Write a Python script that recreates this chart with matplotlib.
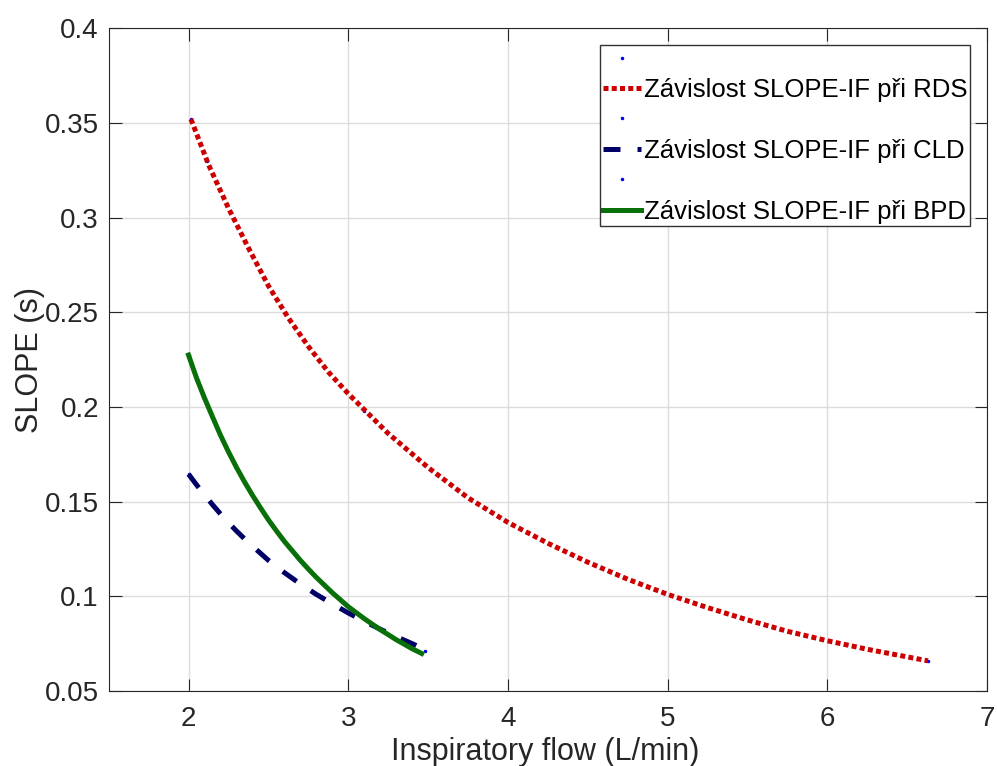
import numpy as np
import matplotlib
matplotlib.use("Agg")
import matplotlib.pyplot as plt
from matplotlib.ticker import FixedLocator, FuncFormatter

plt.rcParams['font.family'] = ['Liberation Sans', 'DejaVu Sans']

# fitted curves
rds_x = [2.015, 2.125, 2.25, 2.375, 2.5, 2.625, 2.75, 2.875, 3.0, 3.25, 3.5,
         3.75, 4.0, 4.25, 4.5, 4.75, 5.0, 5.25, 5.5, 5.75, 6.0, 6.25, 6.63]
rds_y = [0.352, 0.328, 0.305, 0.284, 0.264, 0.247, 0.232, 0.2185, 0.207,
         0.186, 0.168, 0.152, 0.139, 0.128, 0.118, 0.109, 0.101, 0.094,
         0.0875, 0.0815, 0.0765, 0.072, 0.0659]

cld_x = [2.0, 2.05, 2.1, 2.15, 2.2, 2.25, 2.3, 2.35, 2.4, 2.5, 2.6, 2.7,
         2.8, 2.9, 3.0, 3.1, 3.2, 3.3, 3.4, 3.48]
cld_y = [0.1645, 0.1589, 0.1535, 0.1484, 0.1435, 0.1389, 0.1345, 0.1304,
         0.1265, 0.119, 0.1125, 0.1065, 0.101, 0.096, 0.0912, 0.0868,
         0.0826, 0.0787, 0.075, 0.0718]

bpd_x = [2.0, 2.05, 2.1, 2.15, 2.2, 2.25, 2.3, 2.35, 2.4, 2.45, 2.5, 2.55,
         2.6, 2.65, 2.7, 2.75, 2.8, 2.9, 3.0, 3.1, 3.2, 3.3, 3.4, 3.46]
bpd_y = [0.2274, 0.2153, 0.2047, 0.1948, 0.1851, 0.1763, 0.1681, 0.1605,
         0.1534, 0.1468, 0.1404, 0.1346, 0.129, 0.124, 0.119, 0.1144,
         0.110, 0.1019, 0.0945, 0.0882, 0.0824, 0.0771, 0.0723, 0.0698]

# measured points (small blue dots)
rds_pts_x = [2.015, 2.117, 2.5, 3.1, 6.63]
rds_pts_y = [0.352, 0.330, 0.264, 0.198, 0.0659]
cld_pts_x = [2.0, 2.771, 3.48]
cld_pts_y = [0.1646, 0.1027, 0.0712]
bpd_pts_x = [2.0, 3.456]
bpd_pts_y = [0.2274, 0.0698]

labels = ["", "Závislost SLOPE-IF při RDS",
          "", "Závislost SLOPE-IF při CLD",
          "", "Závislost SLOPE-IF při BPD"]

x_ticks = [2, 3, 4, 5, 6, 7]
y_ticks = [0.05, 0.1, 0.15, 0.2, 0.25, 0.3, 0.35, 0.4]

dark = '#262626'

fig = plt.figure(figsize=(9.97, 7.66), dpi=100)
ax = fig.add_axes([0.109, 0.098, 0.881, 0.8651])

lw = 3.6
h1, = ax.plot(rds_pts_x, rds_pts_y, '.', color='blue', ms=3)
h2, = ax.plot(rds_x, rds_y, color='#cc0000', lw=lw, linestyle=(0, (1, 0.65)))
h3, = ax.plot(cld_pts_x, cld_pts_y, '.', color='blue', ms=3)
h4, = ax.plot(cld_x, cld_y, color='#000066', lw=lw, linestyle=(0, (3.4, 3.4)))
h5, = ax.plot(bpd_pts_x, bpd_pts_y, '.', color='blue', ms=3)
h6, = ax.plot(bpd_x, bpd_y, color='#097009', lw=lw)

ax.set_xlim(1.5, 7)
ax.set_ylim(0.05, 0.4)
ax.xaxis.set_major_locator(FixedLocator(x_ticks))
ax.yaxis.set_major_locator(FixedLocator(y_ticks))
ax.yaxis.set_major_formatter(FuncFormatter(lambda v, p: ('%g' % round(v, 3))))

ax.grid(True, color='#dcdcdc', lw=1)
ax.set_axisbelow(True)
ax.tick_params(direction='in', length=9, width=0.8, colors=dark,
               labelsize=20, top=True, right=True)
ax.tick_params(axis='x', pad=11)
ax.tick_params(axis='y', pad=7)
for s in ax.spines.values():
    s.set_color(dark)
    s.set_linewidth(0.8)

ax.set_xlabel("Inspiratory flow (L/min)", fontsize=22, color=dark)
ax.set_ylabel("SLOPE (s)", fontsize=22, color=dark)
ax.xaxis.set_label_coords(0.497, -0.069)
ax.yaxis.set_label_coords(-0.072, 0.5)

leg = ax.legend([h1, h2, h3, h4, h5, h6], labels, loc='upper right',
                fontsize=18.5, frameon=True, fancybox=False, framealpha=1,
                borderpad=0.1, labelspacing=0.25, handlelength=1.5,
                handletextpad=0.12, borderaxespad=0.65)
leg.get_frame().set_edgecolor('#333333')
leg.get_frame().set_linewidth(1.0)

fig.savefig("out.png", dpi=100)
